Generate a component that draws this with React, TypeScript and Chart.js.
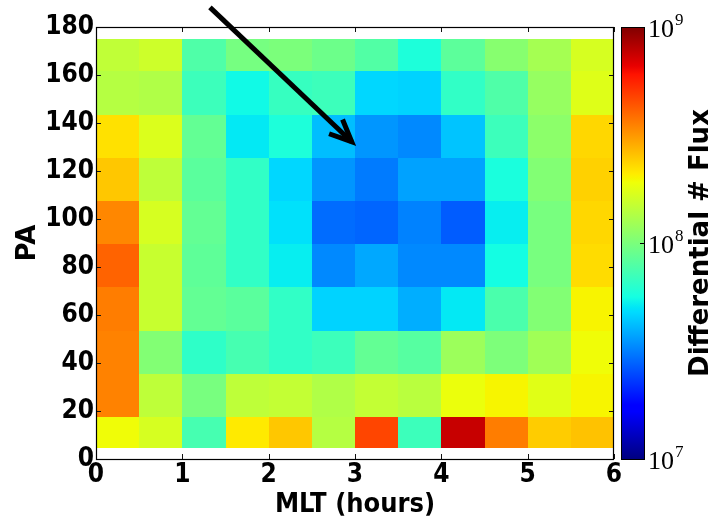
import React, { useEffect, useRef } from "react";
import { Chart, registerables } from "chart.js";

Chart.register(...registerables);

// Bin edges: magnetic local time (hours) and pitch angle (degrees)
const mltEdges = [0, 0.5, 1, 1.5, 2, 2.5, 3, 3.5, 4, 4.5, 5, 5.5, 6];
const paEdges = [4.5, 17.5, 35.5, 53.5, 71.5, 89.5, 107.5, 125.5, 143.5, 161.5, 175];

// Differential number flux per MLT bin, one array per pitch-angle bin (lowest PA first)
const fluxPA04 = [1.92e8, 1.66e8, 7.4e7, 2.11e8, 2.5e8, 1.38e8, 4.72e8, 7.0e7, 7.52e8, 3.6e8, 2.44e8, 2.57e8];
const fluxPA17 = [3.5e8, 1.45e8, 9.8e7, 1.45e8, 1.49e8, 1.34e8, 1.49e8, 1.41e8, 1.87e8, 2.0e8, 1.76e8, 2.0e8];
const fluxPA35 = [3.5e8, 1.04e8, 6.5e7, 7.4e7, 6.6e7, 7.0e7, 8.7e7, 8.1e7, 1.2e8, 1.01e8, 1.23e8, 1.92e8];
const fluxPA53 = [3.6e8, 1.53e8, 8.7e7, 8.3e7, 6.6e7, 4.6e7, 4.6e7, 3.9e7, 5.1e7, 7.6e7, 1.04e8, 2.01e8];
const fluxPA71 = [4.07e8, 1.53e8, 8.5e7, 6.6e7, 5.2e7, 3.3e7, 3.8e7, 3.3e7, 3.3e7, 5.6e7, 9.8e7, 2.26e8];
const fluxPA89 = [3.42e8, 1.66e8, 8.7e7, 6.6e7, 4.9e7, 2.9e7, 2.8e7, 3.2e7, 2.7e7, 5.2e7, 9.8e7, 2.32e8];
const fluxPA107 = [2.5e8, 1.45e8, 8.3e7, 6.6e7, 4.7e7, 3.5e7, 3.1e7, 3.7e7, 3.7e7, 5.8e7, 1.04e8, 2.38e8];
const fluxPA125 = [2.21e8, 1.71e8, 8.7e7, 5.1e7, 5.9e7, 4.2e7, 3.5e7, 3.3e7, 4.3e7, 7.0e7, 1.1e8, 2.32e8];
const fluxPA143 = [1.38e8, 1.34e8, 7.0e7, 5.5e7, 6.8e7, 7.0e7, 4.7e7, 4.6e7, 6.6e7, 7.8e7, 1.16e8, 1.74e8];
const fluxPA161 = [1.47e8, 1.58e8, 7.8e7, 9.7e7, 1.0e8, 9.2e7, 7.9e7, 5.9e7, 8.4e7, 1.07e8, 1.26e8, 1.66e8];

const fluxRows = [
  fluxPA04, fluxPA17, fluxPA35, fluxPA53, fluxPA71,
  fluxPA89, fluxPA107, fluxPA125, fluxPA143, fluxPA161,
];

// Axis ticks
const mltTicks = [0, 1, 2, 3, 4, 5, 6];
const paTicks = [0, 20, 40, 60, 80, 100, 120, 140, 160, 180];
const fluxTicks = [1e7, 1e8, 1e9];
const fluxMin = 1e7;
const fluxMax = 1e9;

// Annotation arrow, in (MLT hours, PA degrees)
const arrowTail = { x: 1.32, y: 188.2 };
const arrowTip = { x: 2.962, y: 132.2 };

const SANS_H = "'DejaVu Sans Condensed', 'DejaVu Sans', sans-serif";
const SANS_V = "'DejaVu Sans', sans-serif";
const SERIF = "'Liberation Serif', 'DejaVu Serif', serif";

// Jet colour map (piecewise linear segments)
const JET: Record<string, number[][]> = {
  r: [[0, 0], [0.35, 0], [0.66, 1], [0.89, 1], [1, 0.5]],
  g: [[0, 0], [0.125, 0], [0.375, 1], [0.64, 1], [0.91, 0], [1, 0]],
  b: [[0, 0.5], [0.11, 1], [0.34, 1], [0.65, 0], [1, 0]],
};

function segValue(pts: number[][], t: number): number {
  if (t <= pts[0][0]) return pts[0][1];
  for (let i = 1; i < pts.length; i++) {
    const [x1, y1] = pts[i];
    const [x0, y0] = pts[i - 1];
    if (t <= x1) return y0 + ((t - x0) / (x1 - x0)) * (y1 - y0);
  }
  return pts[pts.length - 1][1];
}

function jet(t: number): string {
  const c = Math.max(0, Math.min(1, t));
  const r = Math.round(segValue(JET.r, c) * 255);
  const g = Math.round(segValue(JET.g, c) * 255);
  const b = Math.round(segValue(JET.b, c) * 255);
  return `rgb(${r},${g},${b})`;
}

type Cell = { x: number; y: number; v: number; x0: number; x1: number; y0: number; y1: number };

const cells: Cell[] = [];
fluxRows.forEach((row, j) =>
  row.forEach((v, i) =>
    cells.push({
      x: (mltEdges[i] + mltEdges[i + 1]) / 2,
      y: (paEdges[j] + paEdges[j + 1]) / 2,
      v,
      x0: mltEdges[i],
      x1: mltEdges[i + 1],
      y0: paEdges[j],
      y1: paEdges[j + 1],
    })
  )
);

// Fraction of the colour scale for a flux value, via the log colour axis
function fluxFraction(chart: any, v: number): number {
  const s = chart.scales.flux;
  return (s.bottom - s.getPixelForValue(v)) / (s.bottom - s.top);
}

const heatmapPlugin = {
  id: "heatmapCells",
  beforeDatasetsDraw(chart: any) {
    const { ctx } = chart;
    const xs = chart.scales.x;
    const ys = chart.scales.y;
    const data = chart.data.datasets[0].data as Cell[];
    ctx.save();
    for (const c of data) {
      const l = Math.round(xs.getPixelForValue(c.x0));
      const r = Math.round(xs.getPixelForValue(c.x1));
      const t = Math.round(ys.getPixelForValue(c.y1));
      const b = Math.round(ys.getPixelForValue(c.y0));
      ctx.fillStyle = jet(fluxFraction(chart, c.v));
      ctx.fillRect(l, t, r - l, b - t);
    }
    ctx.restore();
  },
  afterDatasetsDraw(chart: any) {
    const { ctx, chartArea: a } = chart;
    const xs = chart.scales.x;
    const ys = chart.scales.y;
    const tl = 5;
    ctx.save();
    ctx.strokeStyle = "#111";
    ctx.lineWidth = 1;
    ctx.beginPath();
    for (const v of mltTicks) {
      const px = Math.round(xs.getPixelForValue(v)) + 0.5;
      ctx.moveTo(px, a.bottom);
      ctx.lineTo(px, a.bottom - tl);
      ctx.moveTo(px, a.top);
      ctx.lineTo(px, a.top + tl);
    }
    for (const v of paTicks) {
      const py = Math.round(ys.getPixelForValue(v)) + 0.5;
      ctx.moveTo(a.left, py);
      ctx.lineTo(a.left + tl, py);
      ctx.moveTo(a.right, py);
      ctx.lineTo(a.right - tl, py);
    }
    ctx.stroke();
    ctx.lineWidth = 1.2;
    ctx.strokeStyle = "#000";
    ctx.strokeRect(a.left + 0.5, a.top + 0.5, a.right - a.left - 1, a.bottom - a.top);
    ctx.restore();
  },
  afterDraw(chart: any) {
    const { ctx, chartArea: a } = chart;
    const fs = chart.scales.flux;
    const xs = chart.scales.x;
    const ys = chart.scales.y;

    // Colour bar
    const cbL = a.right + 7;
    const cbR = a.right + 31;
    const cbT = fs.getPixelForValue(fluxMax);
    const cbB = fs.getPixelForValue(fluxMin);
    const grad = ctx.createLinearGradient(0, cbB, 0, cbT);
    const stops = [0, 0.11, 0.125, 0.34, 0.35, 0.375, 0.5, 0.64, 0.65, 0.66, 0.89, 0.91, 1];
    for (const s of stops) grad.addColorStop(s, jet(s));
    ctx.save();
    ctx.fillStyle = grad;
    ctx.fillRect(cbL, cbT, cbR - cbL, cbB - cbT);
    ctx.strokeStyle = "#000";
    ctx.lineWidth = 1;
    ctx.strokeRect(cbL + 0.5, cbT + 0.5, cbR - cbL - 1, cbB - cbT);

    // Colour bar ticks and labels (10^n)
    ctx.beginPath();
    for (const v of fluxTicks) {
      const py = Math.round(fs.getPixelForValue(v)) + 0.5;
      ctx.moveTo(cbR, py);
      ctx.lineTo(cbR - 5, py);
    }
    ctx.stroke();
    ctx.fillStyle = "#000";
    ctx.textBaseline = "alphabetic";
    ctx.textAlign = "left";
    for (const v of fluxTicks) {
      const py = fs.getPixelForValue(v);
      const exp = String(Math.round(Math.log10(v)));
      ctx.font = `26px ${SERIF}`;
      const baseX = cbR + 3;
      const baseY = py + 10;
      ctx.fillText("10", baseX, baseY);
      const w = ctx.measureText("10").width;
      ctx.font = `17px ${SERIF}`;
      ctx.fillText(exp, baseX + w + 1, baseY - 12);
    }

    // Colour bar title
    ctx.font = `bold 26px ${SANS_V}`;
    ctx.textAlign = "center";
    ctx.textBaseline = "middle";
    ctx.translate(701, (cbT + cbB) / 2);
    ctx.rotate(-Math.PI / 2);
    ctx.fillText("Differential # Flux", 0, 0);
    ctx.restore();

    // Annotation arrow
    const x0 = xs.getPixelForValue(arrowTail.x);
    const y0 = ys.getPixelForValue(arrowTail.y);
    const x1 = xs.getPixelForValue(arrowTip.x);
    const y1 = ys.getPixelForValue(arrowTip.y);
    const ang = Math.atan2(y0 - y1, x0 - x1);
    const hl = 24;
    const spread = 0.42;
    ctx.save();
    ctx.strokeStyle = "#000";
    ctx.lineWidth = 5;
    ctx.lineCap = "butt";
    ctx.lineJoin = "miter";
    ctx.beginPath();
    ctx.moveTo(x0, y0);
    ctx.lineTo(x1, y1);
    ctx.stroke();
    ctx.beginPath();
    ctx.moveTo(x1 + hl * Math.cos(ang + spread), y1 + hl * Math.sin(ang + spread));
    ctx.lineTo(x1, y1);
    ctx.lineTo(x1 + hl * Math.cos(ang - spread), y1 + hl * Math.sin(ang - spread));
    ctx.stroke();
    ctx.restore();
  },
};

export default function App() {
  const canvasRef = useRef<HTMLCanvasElement | null>(null);

  useEffect(() => {
    if (!canvasRef.current) return;
    const tickFont = { family: SANS_H, size: 26, weight: "bold" as const };
    const chart = new Chart(canvasRef.current, {
      type: "scatter",
      data: {
        datasets: [
          {
            label: "Differential # Flux",
            data: cells as any,
            pointRadius: 0,
            pointHoverRadius: 0,
            showLine: false,
          },
        ],
      },
      options: {
        animation: false,
        responsive: false,
        devicePixelRatio: 1,
        events: [],
        layout: { padding: { top: 27, left: 0, right: 0, bottom: 0 } },
        plugins: {
          legend: { display: false },
          tooltip: { enabled: false },
        },
        scales: {
          x: {
            type: "linear",
            position: "bottom",
            min: 0,
            max: 6,
            afterBuildTicks: (s: any) => {
              s.ticks = mltTicks.map((value) => ({ value }));
            },
            afterFit: (s: any) => {
              s.height = 60;
            },
            grid: { display: false, drawTicks: false },
            border: { display: false },
            ticks: {
              color: "#000",
              font: tickFont,
              padding: 1,
              maxRotation: 0,
              autoSkip: false,
            },
            title: {
              display: true,
              text: "MLT (hours)",
              color: "#000",
              font: { family: SANS_H, size: 27, weight: "bold", lineHeight: 1 },
              padding: { top: 0, bottom: 1 },
            },
          },
          y: {
            type: "linear",
            position: "left",
            min: 0,
            max: 180,
            afterBuildTicks: (s: any) => {
              s.ticks = paTicks.map((value) => ({ value }));
            },
            afterFit: (s: any) => {
              s.width = 96;
            },
            grid: { display: false, drawTicks: false },
            border: { display: false },
            ticks: {
              color: "#000",
              font: tickFont,
              padding: 2,
              autoSkip: false,
            },
            title: {
              display: true,
              text: "PA",
              color: "#000",
              font: { family: SANS_V, size: 26, weight: "bold" },
              padding: { top: 13, bottom: 0 },
            },
          },
          flux: {
            type: "logarithmic",
            position: "right",
            min: fluxMin,
            max: fluxMax,
            afterBuildTicks: (s: any) => {
              s.ticks = fluxTicks.map((value) => ({ value }));
            },
            afterFit: (s: any) => {
              s.width = 106;
            },
            grid: { display: false, drawTicks: false },
            border: { display: false },
            ticks: { display: false },
          },
        },
      },
      plugins: [heatmapPlugin],
    });
    return () => chart.destroy();
  }, []);

  return (
    <div style={{ position: "absolute", left: 0, top: 0, width: 720, height: 519, background: "#fff" }}>
      <canvas ref={canvasRef} width={720} height={519} style={{ display: "block", width: 720, height: 519 }} />
    </div>
  );
}
